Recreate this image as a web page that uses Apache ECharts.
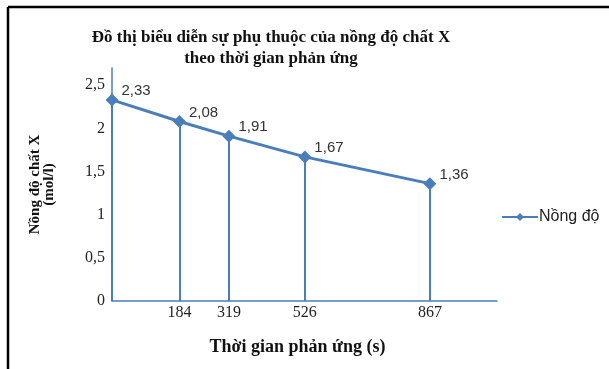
<!DOCTYPE html>
<html>
<head>
<meta charset="utf-8">
<script src="https://cdn.jsdelivr.net/npm/echarts@6/dist/echarts.min.js"></script>
<style>
  html, body { margin: 0; padding: 0; background: #fff; }
  #chart { width: 609px; height: 369px; }
</style>
</head>
<body>
<div id="chart"></div>
<script>
// data
const times = [0, 184, 319, 526, 867];
const conc = [2.33, 2.08, 1.91, 1.67, 1.36];
const yTicks = [0, 0.5, 1, 1.5, 2, 2.5];
const seriesName = 'Nồng độ';

const blue = '#4A7EBB';
const serif = '"Liberation Serif", "DejaVu Serif", serif';
const sans = '"Liberation Sans", "DejaVu Sans", sans-serif';
const comma = (v) => String(v).replace('.', ',');

const chart = echarts.init(document.getElementById('chart'));

chart.setOption({
  animation: false,
  backgroundColor: '#fff',
  grid: { left: 112, right: 112, top: 68, bottom: 68 },
  legend: {
    data: [seriesName],
    left: 496,
    top: 204,
    itemWidth: 36,
    itemHeight: 10,
    itemGap: 2,
    textStyle: { fontFamily: sans, fontSize: 16, color: '#222', padding: [0, 0, 0, -4] },
  },
  xAxis: {
    type: 'value',
    min: 0,
    max: 1050,
    name: 'Thời gian phản ứng (s)',
    nameLocation: 'middle',
    nameGap: 37,
    nameTextStyle: { fontFamily: serif, fontSize: 18, fontWeight: 'bold', color: '#111', padding: [0, 14, 0, 0] },
    axisLine: { show: true, lineStyle: { color: blue, width: 1.5 } },
    axisTick: { show: false },
    splitLine: { show: false },
    axisLabel: {
      customValues: times.filter((t) => t > 0),
      fontFamily: serif,
      fontSize: 16,
      color: '#222',
      margin: 4,
    },
  },
  yAxis: {
    type: 'value',
    min: 0,
    max: 2.7,
    name: 'Nồng độ chất X\n(mol/l)',
    nameLocation: 'middle',
    nameRotate: 90,
    nameGap: 56,
    nameTextStyle: { fontFamily: serif, fontSize: 15, fontWeight: 'bold', color: '#111', lineHeight: 14 },
    axisLine: { show: true, lineStyle: { color: blue, width: 1.5 } },
    axisTick: { show: false },
    splitLine: { show: false },
    axisLabel: {
      customValues: yTicks,
      formatter: comma,
      fontFamily: serif,
      fontSize: 16,
      color: '#222',
      margin: 7,
      verticalAlign: 'middle',
      padding: [0, 0, 9, 0],
    },
  },
  series: [
    {
      name: seriesName,
      type: 'line',
      data: times.map((t, i) => [t, conc[i]]),
      symbol: 'diamond',
      symbolSize: 13,
      itemStyle: { color: blue },
      lineStyle: { color: blue, width: 3 },
      label: {
        show: true,
        position: 'right',
        distance: 3,
        offset: [0, -9],
        fontFamily: sans,
        fontSize: 15,
        color: '#333',
        formatter: (p) => comma(p.value[1]),
      },
      markLine: {
        silent: true,
        symbol: ['none', 'none'],
        label: { show: false },
        lineStyle: { color: blue, width: 2, type: 'solid' },
        data: times.map((t, i) => [{ coord: [t, 0] }, { coord: [t, conc[i]] }]),
      },
    },
  ],
  graphic: [
    {
      type: 'text',
      style: {
        text: 'Đồ thị biểu diễn sự phụ thuộc của nồng độ chất X\ntheo thời gian phản ứng',
        x: 271,
        y: 27,
        align: 'center',
        fontFamily: serif,
        fontSize: 17,
        fontWeight: 'bold',
        lineHeight: 21,
        fill: '#111',
      },
    },
    {
      type: 'line',
      shape: { x1: 8, y1: 7, x2: 609, y2: 7 },
      style: { stroke: '#000', lineWidth: 2.5 },
    },
    {
      type: 'line',
      shape: { x1: 8, y1: 7, x2: 8, y2: 369 },
      style: { stroke: '#000', lineWidth: 2.5 },
    },
  ],
});
</script>
</body>
</html>
